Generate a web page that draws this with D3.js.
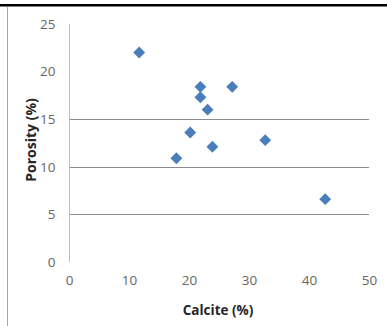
<!DOCTYPE html>
<html><head><meta charset="utf-8">
<script src="https://cdn.jsdelivr.net/npm/d3@7"></script>
<style>body{margin:0;background:#fff}svg{display:block}</style>
</head><body>
<svg id="c" width="387" height="326"></svg>
<script>
const calcite  = [11.7, 21.9, 21.9, 27.2, 23.1, 20.2, 23.9, 17.9, 32.7, 42.7];
const porosity = [22.0, 18.4, 17.3, 18.4, 16.0, 13.6, 12.1, 10.9, 12.8, 6.6];
const xTicks = [0, 10, 20, 30, 40, 50];
const yTicks = [0, 5, 10, 15, 20, 25];
const gridTicks = [5, 10, 15];

const svg = d3.select("#c");
const x = d3.scaleLinear().domain([0, 50]).range([69, 369]);
const y = d3.scaleLinear().domain([0, 25]).range([262, 24]);
const font = "'Open Sans', 'Liberation Sans', sans-serif";

svg.append("rect").attr("x", 0).attr("y", 4).attr("width", 387).attr("height", 2.5).attr("fill", "#000");
svg.append("line").attr("x1", 7.5).attr("x2", 7.5).attr("y1", 7).attr("y2", 326).attr("stroke", "#a6a6a6").attr("stroke-width", 1);

// gridlines
svg.append("g").selectAll("line").data(gridTicks).join("line")
  .attr("x1", x(0)).attr("x2", x(50))
  .attr("y1", d => Math.round(y(d)) + 0.5).attr("y2", d => Math.round(y(d)) + 0.5)
  .attr("stroke", "#8c8c8c").attr("stroke-width", 1);

// y axis
const ya = svg.append("g").attr("transform", `translate(${x(0) + 0.5},0)`)
  .call(d3.axisLeft(y).tickValues(yTicks).tickSize(0).tickPadding(14));
ya.select(".domain").attr("stroke", "#bfbfbf").attr("d", `M0,${y(25)}V${y(0)}`);
ya.selectAll("text").attr("font-family", font).attr("font-size", 13.5).attr("fill", "#666");

// x axis
const xa = svg.append("g").attr("transform", `translate(0,${y(0)})`)
  .call(d3.axisBottom(x).tickValues(xTicks).tickSize(0).tickPadding(13));
xa.select(".domain").remove();
xa.selectAll("text").attr("font-family", font).attr("font-size", 13.5).attr("fill", "#666");

// titles
svg.append("text").attr("x", 218).attr("y", 315).attr("text-anchor", "middle")
  .attr("font-family", font).attr("font-size", 13.5).attr("font-weight", "bold").attr("fill", "#262626")
  .text("Calcite (%)");
svg.append("text").attr("transform", "translate(36,140) rotate(-90)").attr("text-anchor", "middle")
  .attr("font-family", font).attr("font-size", 14).attr("font-weight", "bold").attr("fill", "#262626")
  .text("Porosity (%)");

// points
const pts = calcite.map((c, i) => [c, porosity[i]]);
const sym = d3.symbol().type(d3.symbolDiamond2).size(90);
svg.append("g").selectAll("path").data(pts).join("path")
  .attr("d", sym)
  .attr("transform", d => `translate(${x(d[0])},${y(d[1])})`)
  .attr("fill", "#4a7ebb");
</script>
</body></html>
